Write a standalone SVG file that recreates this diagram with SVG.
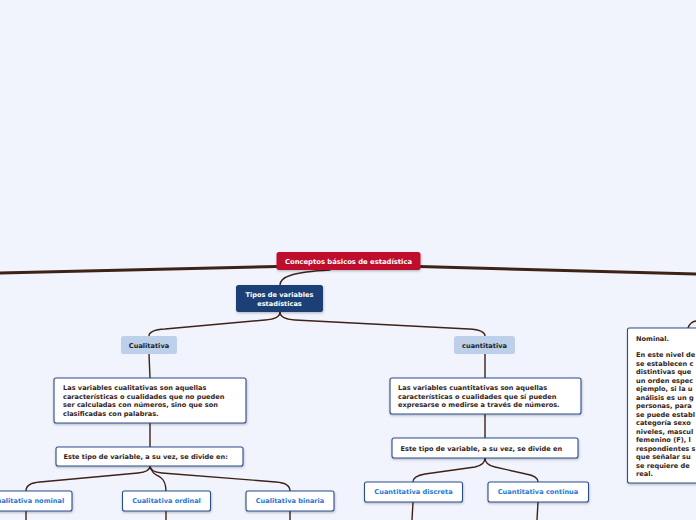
<svg xmlns="http://www.w3.org/2000/svg" width="696" height="520" viewBox="0 0 696 520">
<defs>
<filter id="sh" x="-10%" y="-10%" width="130%" height="140%">
<feDropShadow dx="0.5" dy="1.2" stdDeviation="0.8" flood-color="#000" flood-opacity="0.25"/>
</filter>
</defs>
<style>
text{font-family:"DejaVu Sans","Liberation Sans",sans-serif;font-weight:bold;font-size:6.6px;}
.c{fill:none;stroke:#3d2217;stroke-width:1.4;stroke-linecap:round;}
.thick{fill:none;stroke:#3d2217;stroke-width:3;}
.root rect{fill:#bf0f2f;}
.main rect{fill:#1b3f74;}
.root text,.main text{fill:#ffffff;text-anchor:middle;}
.root text{font-size:6.8px;}
.cat rect{fill:#bcd0ea;}
.cat text{fill:#1d1d1d;text-anchor:middle;}
.box rect{fill:#ffffff;stroke:#2b4d8c;stroke-width:1.1;}
.box text{fill:#35251c;}
.sub rect{fill:#ffffff;stroke:#2b4d8c;stroke-width:1.1;}
.sub text{fill:#2a78d6;text-anchor:middle;}
</style>
<rect x="0" y="0" width="696" height="520" fill="#f1f4fd"/>
<g id="connectors">
<path class="thick" d="M277,266.5 L0,273"/>
<path class="thick" d="M419,266.5 L696,274"/>
<path class="c" d="M330,270 C292,272 280,277 280,285"/>
<path class="c" d="M280,312 Q280,319 265,320 L165,329 Q149,330 149,336"/>
<path class="c" d="M280,312 Q280,319 295,320 L469,329 Q485,330 485,336"/>
<path class="c" d="M149,354 L150,378"/>
<path class="c" d="M150,423 L150,447"/>
<path class="c" d="M485,354 L485,378"/>
<path class="c" d="M485,414 L485,438"/>
<path class="c" d="M150,466 Q150,472 138,473 L40,482 Q26,483 26,491"/>
<path class="c" d="M150,466 Q151,473 160,477 Q166,481 166,491"/>
<path class="c" d="M150,466 Q150,472 162,473 L276,482 Q290,483 290,491"/>
<path class="c" d="M26,511 L26,520"/>
<path class="c" d="M166,511 L166,520"/>
<path class="c" d="M290,511 L290,520"/>
<path class="c" d="M485,458 Q485,465 475,467 L425,474 Q413,476 413,482"/>
<path class="c" d="M485,458 Q485,465 495,467 L526,474 Q538,476 538,482"/>
<path class="c" d="M413,502 L412,520"/>
<path class="c" d="M538,502 L537,520"/>
<path class="c" d="M688,328 Q690,322 696,321"/>
</g>
<g id="root" class="root">
<rect x="276.5" y="252" width="144" height="18" rx="2.5" filter="url(#sh)"/>
<text x="348.5" y="263.5">Conceptos básicos de estadística</text>
</g>
<g id="tipos" class="main">
<rect x="236" y="285" width="87" height="27" rx="2.5" filter="url(#sh)"/>
<text x="279.5" y="297">Tipos de variables</text>
<text x="279.5" y="305.5">estadísticas</text>
</g>
<g id="cualitativa" class="cat">
<rect x="121" y="336" width="56" height="18" rx="2.5"/>
<text x="149" y="347.5">Cualitativa</text>
</g>
<g id="cuantitativa" class="cat">
<rect x="454" y="336" width="61" height="18" rx="2.5"/>
<text x="484.5" y="347.5">cuantitativa</text>
</g>
<g id="desc-cualitativa" class="box">
<rect x="54" y="378" width="192" height="45" rx="2" filter="url(#sh)"/>
<text x="63" y="390">Las variables cualitativas son aquellas</text>
<text x="63" y="398.5">características o cualidades que no pueden</text>
<text x="63" y="407">ser calculadas con números, sino que son</text>
<text x="63" y="415.5">clasificadas con palabras.</text>
</g>
<g id="divide-cualitativa" class="box">
<rect x="56" y="447" width="187" height="19" rx="2" filter="url(#sh)"/>
<text x="63.5" y="459">Este tipo de variable, a su vez, se divide en:</text>
</g>
<g id="nominal-cual" class="sub">
<rect x="-16" y="491" width="88" height="20" rx="2" filter="url(#sh)"/>
<text x="28" y="503">Cualitativa nominal</text>
</g>
<g id="ordinal" class="sub">
<rect x="122.5" y="491" width="88" height="20" rx="2" filter="url(#sh)"/>
<text x="166.5" y="503">Cualitativa ordinal</text>
</g>
<g id="binaria" class="sub">
<rect x="246" y="491" width="88" height="20" rx="2" filter="url(#sh)"/>
<text x="290" y="503">Cualitativa binaria</text>
</g>
<g id="desc-cuantitativa" class="box">
<rect x="390" y="378" width="191" height="36" rx="2" filter="url(#sh)"/>
<text x="398" y="390">Las variables cuantitativas son aquellas</text>
<text x="398" y="398.5">características o cualidades que sí pueden</text>
<text x="398" y="407">expresarse o medirse a través de números.</text>
</g>
<g id="divide-cuantitativa" class="box">
<rect x="392" y="438" width="186" height="20" rx="2" filter="url(#sh)"/>
<text x="400.5" y="450.5">Este tipo de variable, a su vez, se divide en</text>
</g>
<g id="discreta" class="sub">
<rect x="364.5" y="482" width="98" height="20" rx="2" filter="url(#sh)"/>
<text x="413.5" y="494">Cuantitativa discreta</text>
</g>
<g id="continua" class="sub">
<rect x="488" y="482" width="100.5" height="20" rx="2" filter="url(#sh)"/>
<text x="538" y="494">Cuantitativa continua</text>
</g>
<g id="nominal" class="box">
<rect x="627.5" y="328" width="100" height="155" rx="2" filter="url(#sh)"/>
<text x="636" y="341">Nominal.</text>
<text x="636" y="357">En este nivel de</text>
<text x="636" y="365.5">se establecen c</text>
<text x="636" y="374">distintivas que</text>
<text x="636" y="382.5">un orden espec</text>
<text x="636" y="391">ejemplo, si la u</text>
<text x="636" y="399.5">análisis es un g</text>
<text x="636" y="408">personas, para</text>
<text x="636" y="416.5">se puede establ</text>
<text x="636" y="425">categoría sexo</text>
<text x="636" y="433.5">niveles, mascul</text>
<text x="636" y="442">femenino (F), l</text>
<text x="636" y="450.5">respondientes s</text>
<text x="636" y="459">que señalar su</text>
<text x="636" y="467.5">se requiere de</text>
<text x="636" y="476">real.</text>
</g>
</svg>
